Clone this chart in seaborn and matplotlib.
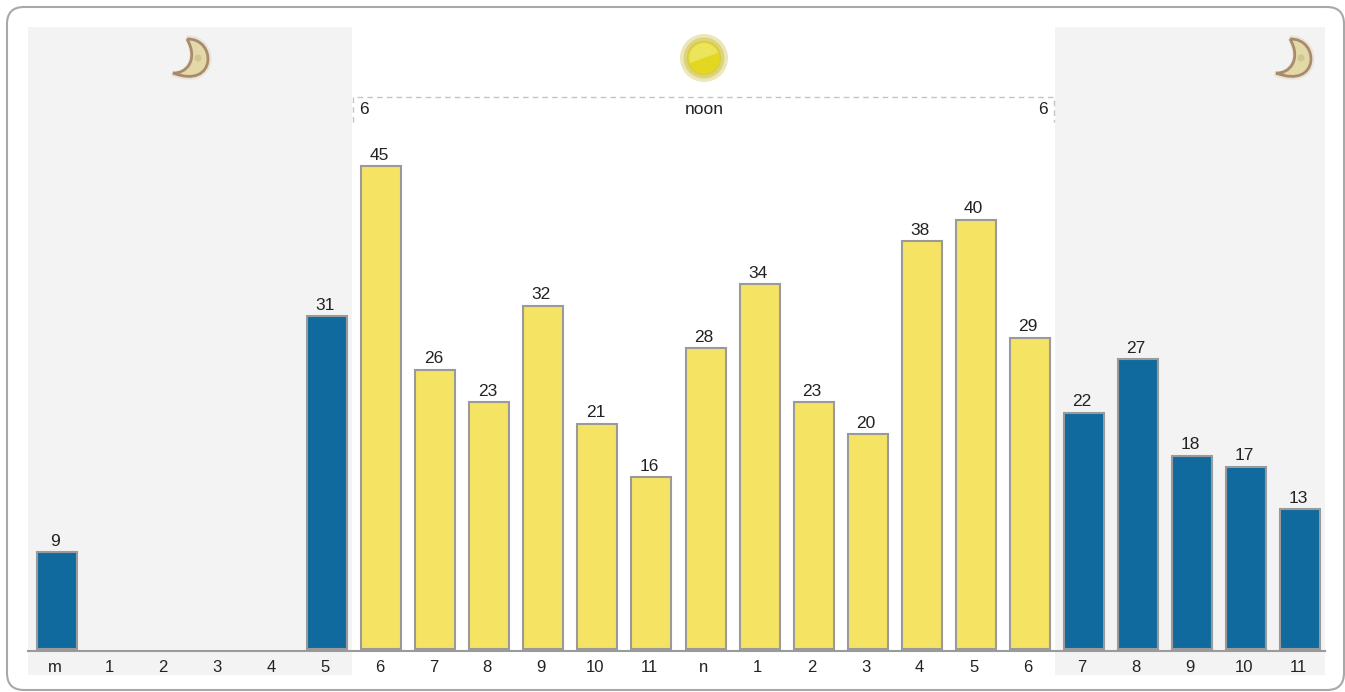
#!/usr/bin/env python3
import numpy as np
import pandas as pd
import seaborn as sns
import matplotlib
matplotlib.use("Agg")
import matplotlib.pyplot as plt
from matplotlib.patches import Circle, FancyBboxPatch, PathPatch, Wedge
from matplotlib.path import Path
from matplotlib.transforms import ScaledTranslation

hour_labels = ["m", "1", "2", "3", "4", "5", "6", "7", "8", "9", "10", "11",
               "n", "1", "2", "3", "4", "5", "6", "7", "8", "9", "10", "11"]
counts = [9, 0, 0, 0, 0, 31, 45, 26, 23, 32, 21, 16,
          28, 34, 23, 20, 38, 40, 29, 22, 27, 18, 17, 13]
periods = ["night"] * 6 + ["day"] * 13 + ["night"] * 5

W, H = 1345, 692
NIGHT = "#106a9e"
DAY = "#f5e463"
EDGE = "#9a9a9a"
SHADE = "#f3f3f3"
TEXT = "#222222"
FS = 12.5

sns.set_theme(style="white")
plt.rcParams["font.family"] = ["Liberation Sans", "DejaVu Sans"]

df = pd.DataFrame({"pos": np.arange(len(counts)), "count": counts, "period": periods})

fig = plt.figure(figsize=(W / 100, H / 100), dpi=100, facecolor="white")
ax = fig.add_axes([28 / W, (H - 651) / H, 1297 / W, 624 / H])
ax.patch.set_alpha(0)

sns.barplot(data=df, x="pos", y="count", hue="period", dodge=False, legend=False,
            palette={"night": NIGHT, "day": DAY}, hue_order=["night", "day"],
            width=40 / 54, edgecolor=EDGE, linewidth=1.5, saturation=1, ax=ax, zorder=3)

ax.set_xlim(-0.537, 23.463)
# bars sit a couple of pixels above the baseline in the original
ax.set_ylim(-0.19, 57.96)

for x0, x1 in [(-0.537, 5.46), (18.47, 23.463)]:
    ax.axvspan(x0, x1, ymin=-24 / 624, ymax=1, color=SHADE, lw=0, clip_on=False, zorder=0)

for cont in ax.containers:
    for b in cont:
        if b.get_height() == 0:
            b.set_visible(False)
    labels = [f"{b.get_height():.0f}" if b.get_height() > 0 else "" for b in cont]
    for t in ax.bar_label(cont, labels=labels, padding=2.5, fontsize=FS, color=TEXT):
        t.set_position((-1.44, 2.5))

ax.set_xticks(df["pos"], hour_labels)
ax.tick_params(axis="x", length=0, pad=6.5, labelsize=FS - 0.5, labelcolor=TEXT)
# labels sit 2px left of the bar centres
shift = ScaledTranslation(-2 / 100, 0, fig.dpi_scale_trans)
for t in ax.get_xticklabels():
    t.set_transform(t.get_transform() + shift)
ax.set_yticks([])
ax.set_xlabel("")
ax.set_ylabel("")
for name in ["top", "left", "right"]:
    ax.spines[name].set_visible(False)
ax.spines["bottom"].set_color(EDGE)
ax.spines["bottom"].set_linewidth(1.5)
ax.spines["bottom"].set_zorder(4)

# overlay in pixel coordinates for the card frame, the icons and the daylight bracket
ov = fig.add_axes([0, 0, 1, 1], zorder=5)
ov.set_xlim(0, W)
ov.set_ylim(H, 0)
ov.axis("off")
ov.patch.set_alpha(0)

ov.add_patch(FancyBboxPatch((7, 7), 1337, 683, boxstyle="round,pad=0,rounding_size=17",
                            fc="none", ec="#a8a8a8", lw=1.5))

ov.plot([353, 353, 1054, 1054], [122, 97, 97, 122], color="#c4c4c4", lw=1, ls=(0, (4, 3)))
ov.text(359, 110, "6", ha="left", va="center", fontsize=FS, color=TEXT)
ov.text(704, 110, "noon", ha="center", va="center", fontsize=FS, color=TEXT)
ov.text(1048, 110, "6", ha="right", va="center", fontsize=FS, color=TEXT)


def crescent(cx):
    # tips at upper middle and lower left, bulging to the right
    def shape(k=1.0):
        verts = [(cx - 3, 39), (cx + 27, 38), (cx + 27, 90), (cx - 17, 73),
                 (cx - 4, 74), (cx + 9, 60), (cx - 3, 39)]
        verts = [(cx + (x - cx) * k, 59 + (y - 59) * k) for x, y in verts]
        codes = [Path.MOVETO] + [Path.CURVE4] * 6
        return Path(verts, codes)
    ov.add_patch(PathPatch(shape(k=1.06), fc="#d9c7ae", ec="#e3d6c4", lw=3.5, alpha=0.5))
    ov.add_patch(PathPatch(shape(), fc="#e3d9a8", ec="#a88b6c", lw=2))
    ov.add_patch(Circle((cx + 8, 58), 3.5, fc="#cdc18e", ec="none", alpha=0.8))


crescent(190)
crescent(1293)

ov.add_patch(Circle((704, 58), 24, fc="#ece7b8", ec="none"))
ov.add_patch(Circle((704, 58), 20.5, fc="#dcd37a", ec="none"))
ov.add_patch(Circle((704, 58), 16.5, fc="#e3d81f", ec="#d6cb4e", lw=1))
ov.add_patch(Wedge((704, 58), 15, 160, 340, fc="#ece45a", ec="none"))

fig.savefig("out.png", dpi=100, facecolor="white")
